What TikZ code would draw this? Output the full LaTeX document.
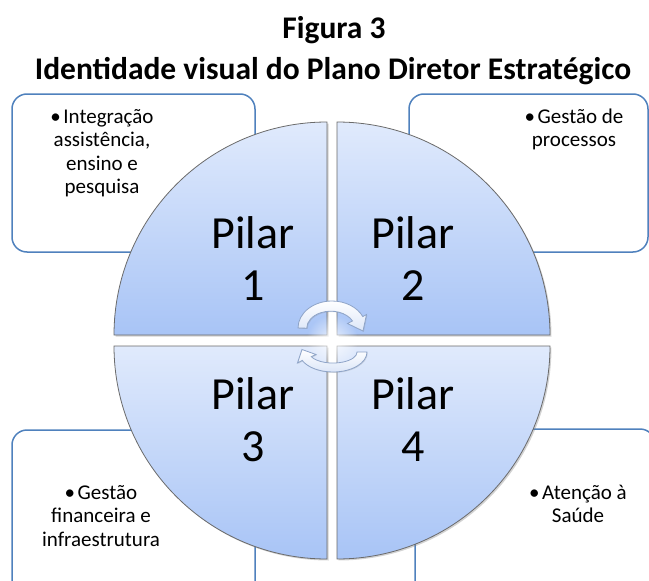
\documentclass[tikz,border=0pt]{standalone}
\usepackage{fontspec}
\setmainfont{Carlito}
\usetikzlibrary{shadows,fadings}
\tikzfading[name=glowfade, inner color=transparent!0, outer color=transparent!100]
\definecolor{boxblue}{HTML}{4F81BD}
\definecolor{qtop}{HTML}{E0EAFC}
\definecolor{qbot}{HTML}{A8C4F6}
\definecolor{qline}{HTML}{6A6A6A}
\definecolor{arrline}{HTML}{8EA4C8}
\definecolor{arrbot}{HTML}{DCE6F8}
\begin{document}
\begin{tikzpicture}[x=1pt,y=-1pt,
  infobox/.style={draw=boxblue, line width=1.5pt, fill=white, rounded corners=15pt, inner sep=0pt},
  quarter/.style={draw=qline, line width=0.8pt, top color=qtop, bottom color=qbot,
    drop shadow={shadow xshift=1.5pt, shadow yshift=-1.5pt, opacity=0.35}},
  cyc/.style={draw=arrline, line width=0.8pt, top color=white, bottom color=arrbot,
    drop shadow={shadow xshift=0.8pt, shadow yshift=-0.8pt, opacity=0.25}},
  boxtext/.style={anchor=base, inner sep=0pt, font=\fontsize{21}{23.5}\selectfont},
  pilartext/.style={anchor=base, inner sep=0pt, font=\fontsize{46}{52}\selectfont},
  titletext/.style={anchor=base, inner sep=0pt, font=\bfseries\fontsize{31.5}{38}\selectfont}]
\useasboundingbox (0,0) rectangle (649,581);
\clip (0,0) rectangle (649,581);
% title
\node[titletext] (t1) at (334,38.5) {Figura 3};
\node[titletext] (t2) at (333,79) {Identidade visual do Plano Diretor Estratégico};
% boxes
\node[infobox, minimum width=243pt, minimum height=158pt] (b1) at (133.5,173) {};
\node[infobox, minimum width=239pt, minimum height=158pt] (b2) at (528.5,173) {};
\node[infobox, minimum width=243pt, minimum height=170pt] (b3) at (133.5,515) {};
\node[infobox, minimum width=240pt, minimum height=171pt] (b4) at (535,514.5) {};
% box texts
\node[boxtext] (x1) at (102,123) {\parbox[t]{200pt}{\centering •\hspace{2.5pt}Integração\hspace*{10pt}\\assistência,\\ensino e\\pesquisa}};
\node[boxtext] (x2) at (574,123) {\parbox[t]{200pt}{\centering •\hspace{2.5pt}Gestão de\hspace*{8pt}\\processos}};
\node[boxtext] (x3) at (101,499) {\parbox[t]{200pt}{\centering •\hspace{2.5pt}Gestão\hspace*{8pt}\\financeira e\\infraestrutura}};
\node[boxtext] (x4) at (578,499) {\parbox[t]{200pt}{\centering •\hspace{2.5pt}Atenção à\hspace*{8pt}\\Saúde}};
% quarters
\path[quarter] (327,335) -- (114,335) arc[start angle=180, end angle=270, radius=213] -- cycle;
\path[quarter] (337,335) -- (337,122) arc[start angle=270, end angle=360, radius=213] -- cycle;
\path[quarter] (327,346) -- (327,559) arc[start angle=90, end angle=180, radius=213] -- cycle;
\path[quarter] (337,346) -- (550,346) arc[start angle=0, end angle=90, radius=213] -- cycle;
% pilar texts
\node[pilartext] (p1) at (253,248) {\parbox[t]{150pt}{\centering Pilar\\1}};
\node[pilartext] (p2) at (413,248) {\parbox[t]{150pt}{\centering Pilar\\2}};
\node[pilartext] (p3) at (253,409) {\parbox[t]{150pt}{\centering Pilar\\3}};
\node[pilartext] (p4) at (413,409) {\parbox[t]{150pt}{\centering Pilar\\4}};
% centre glow
\fill[white, path fading=glowfade, opacity=0.8] (332,340.5) circle (26);
% cycle arrows
\path[cyc] (298,328) arc[start angle=180, end angle=335, x radius=34, y radius=27]
  -- (366.5,314.5) -- (363,331) -- (347.5,323.5) -- (352.5,321)
  arc[start angle=335, end angle=180, x radius=24, y radius=17] -- cycle;
\path[cyc] (367,352) arc[start angle=0, end angle=155, x radius=34, y radius=20]
  -- (297.5,363) -- (302,349.5) -- (316,354.5) -- (311.3,356.7)
  arc[start angle=155, end angle=0, x radius=24, y radius=11] -- cycle;
\end{tikzpicture}
\end{document}
